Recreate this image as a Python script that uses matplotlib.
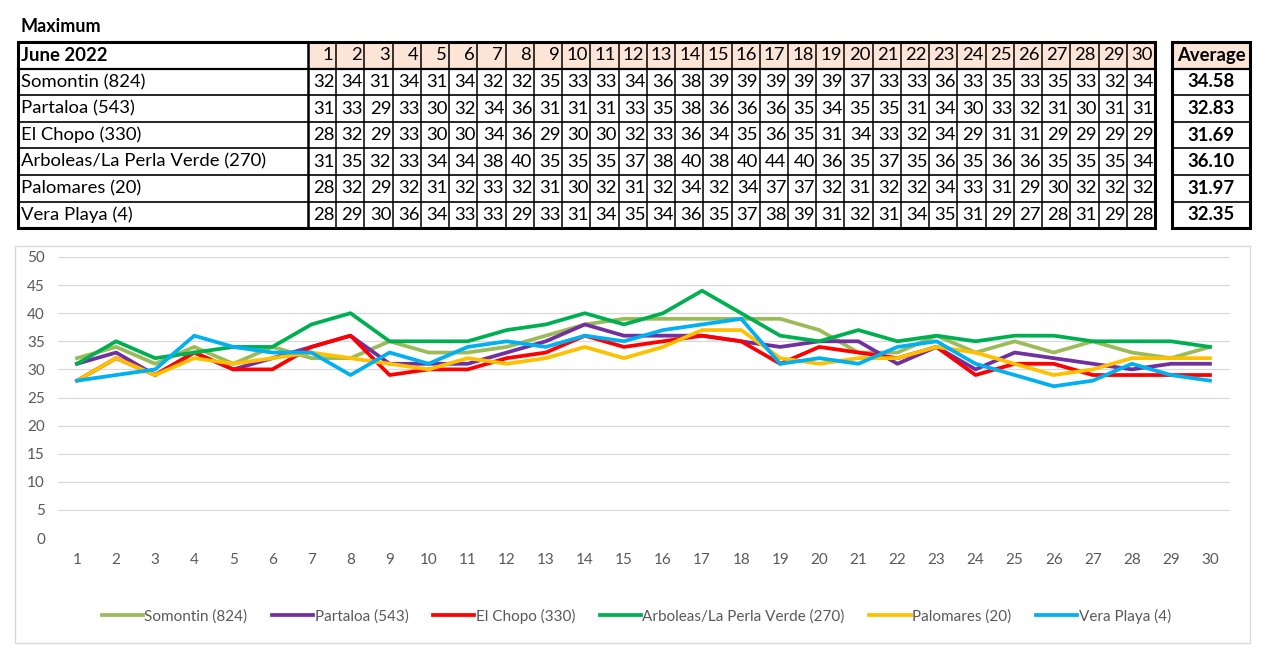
import matplotlib
matplotlib.use("Agg")
import matplotlib.pyplot as plt
from matplotlib.patches import Rectangle

plt.rcParams['font.family'] = ['Lato', 'DejaVu Sans']

TITLE = "Maximum"
MONTH = "June 2022"
DAYS = list(range(1, 31))
STATIONS = ["Somontin (824)", "Partaloa (543)", "El Chopo (330)",
            "Arboleas/La Perla Verde (270)", "Palomares (20)", "Vera Playa (4)"]
COLORS = ["#9BBB59", "#7030A0", "#FF0000", "#00B050", "#FFC000", "#00B0F0"]

somontin = [32, 34, 31, 34, 31, 34, 32, 32, 35, 33, 33, 34, 36, 38, 39,
            39, 39, 39, 39, 37, 33, 33, 36, 33, 35, 33, 35, 33, 32, 34]
partaloa = [31, 33, 29, 33, 30, 32, 34, 36, 31, 31, 31, 33, 35, 38, 36,
            36, 36, 35, 34, 35, 35, 31, 34, 30, 33, 32, 31, 30, 31, 31]
el_chopo = [28, 32, 29, 33, 30, 30, 34, 36, 29, 30, 30, 32, 33, 36, 34,
            35, 36, 35, 31, 34, 33, 32, 34, 29, 31, 31, 29, 29, 29, 29]
arboleas = [31, 35, 32, 33, 34, 34, 38, 40, 35, 35, 35, 37, 38, 40, 38,
            40, 44, 40, 36, 35, 37, 35, 36, 35, 36, 36, 35, 35, 35, 34]
palomares = [28, 32, 29, 32, 31, 32, 33, 32, 31, 30, 32, 31, 32, 34, 32,
             34, 37, 37, 32, 31, 32, 32, 34, 33, 31, 29, 30, 32, 32, 32]
vera_playa = [28, 29, 30, 36, 34, 33, 33, 29, 33, 31, 34, 35, 34, 36, 35,
              37, 38, 39, 31, 32, 31, 34, 35, 31, 29, 27, 28, 31, 29, 28]
SERIES = [somontin, partaloa, el_chopo, arboleas, palomares, vera_playa]
AVERAGES = [34.58, 32.83, 31.69, 36.10, 31.97, 32.35]

W, H = 1280, 659
PEACH = "#FCE4D6"
fig = plt.figure(figsize=(W / 100, H / 100), dpi=100)

# ---- table (drawn in pixel coordinates on a full-figure axes)
tab = fig.add_axes([0, 0, 1, 1])
tab.set_xlim(0, W); tab.set_ylim(H, 0); tab.axis("off")

tab.text(21, 27, TITLE, fontsize=13, fontweight="bold", va="center", ha="left")

x0, xlab, xend = 18, 308, 1155
y0, rh = 42, 26.6
cw = (xend - xlab) / len(DAYS)
nrows = len(STATIONS) + 1
FS = 13.3

# header fills
for j in range(len(DAYS)):
    tab.add_patch(Rectangle((xlab + j * cw, y0), cw, rh, fc=PEACH, ec="none"))
ax0, ax1 = 1172, 1250
tab.add_patch(Rectangle((ax0, y0), ax1 - ax0, rh, fc=PEACH, ec="none"))

# inner grid lines
for i in range(1, nrows):
    y = y0 + i * rh
    tab.plot([x0, xend], [y, y], color="black", lw=1.6 if i == 1 else 1.2)
    tab.plot([ax0, ax1], [y, y], color="black", lw=1.6 if i == 1 else 1.2)
for j in range(1, len(DAYS)):
    x = xlab + j * cw
    tab.plot([x, x], [y0, y0 + nrows * rh], color="black", lw=1.1)
tab.plot([xlab, xlab], [y0, y0 + nrows * rh], color="black", lw=1.8)
# outer borders
tab.add_patch(Rectangle((x0, y0), xend - x0, nrows * rh, fc="none", ec="black", lw=2.2))
tab.add_patch(Rectangle((ax0, y0), ax1 - ax0, nrows * rh, fc="none", ec="black", lw=2.2))

# header text
tab.text(x0 + 3, y0 + rh / 2, MONTH, fontsize=FS, fontweight="bold", va="center")
for j, d in enumerate(DAYS):
    tab.text(xlab + (j + 1) * cw - 2.5, y0 + rh / 2, str(d), fontsize=FS,
             va="center", ha="right")
tab.text((ax0 + ax1) / 2, y0 + rh / 2, "Average", fontsize=FS, fontweight="bold",
         va="center", ha="center")

# body text
for i, (name, vals, avg) in enumerate(zip(STATIONS, SERIES, AVERAGES)):
    yc = y0 + (i + 1.5) * rh
    tab.text(x0 + 3, yc, name, fontsize=FS, va="center")
    for j, v in enumerate(vals):
        tab.text(xlab + (j + 1) * cw - 1.5, yc, str(v), fontsize=FS, va="center", ha="right")
    tab.text((ax0 + ax1) / 2, yc, f"{avg:.2f}", fontsize=FS, fontweight="bold",
             va="center", ha="center")

# chart frame
tab.add_patch(Rectangle((15, 246), 1235, 397, fc="none", ec="#D9D9D9", lw=1.0))

# ---- line chart
ax = fig.add_axes([57.5 / W, (H - 538) / H, 1172 / W, 281 / H])
ax.set_facecolor("none")
for name, vals, c in zip(STATIONS, SERIES, COLORS):
    ax.plot(DAYS, vals, color=c, lw=2.7, label=name, solid_joinstyle="round")
ax.set_xlim(0.5, 30.5)
ax.set_ylim(0, 50)
ax.set_xticks(DAYS)
ax.set_yticks(range(0, 51, 5))
ax.grid(axis="y", color="#D9D9D9", lw=0.9)
ax.set_axisbelow(True)
for s in ax.spines.values():
    s.set_visible(False)
ax.tick_params(length=0, labelsize=11, colors="#595959", pad=11)
ax.tick_params(axis="y", pad=9)

fig.legend(loc="center", bbox_to_anchor=(0.497, 1 - 616 / H), ncol=6, frameon=False,
           fontsize=11, handlelength=2.7, handletextpad=0.1, columnspacing=1.6,
           labelcolor="#595959")

fig.savefig("out.png", dpi=100)
